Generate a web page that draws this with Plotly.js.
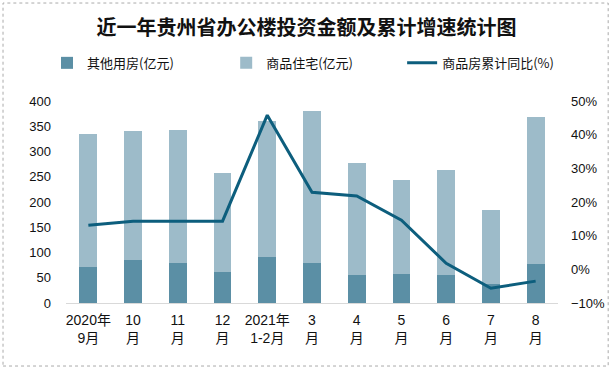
<!DOCTYPE html>
<html><head><meta charset="utf-8">
<script src="https://cdn.plot.ly/plotly-3.0.1.min.js"></script>
<style>html,body{margin:0;padding:0;background:#fff;}#chart{width:613px;height:370px;}</style>
</head><body><div id="chart"></div>
<script>
const categories = ["2020年<br>9月","10<br>月","11<br>月","12<br>月","2021年<br>1-2月","3<br>月","4<br>月","5<br>月","6<br>月","7<br>月","8<br>月"];
const otherUse = [71, 85, 79, 61, 91, 79, 55, 57, 55, 38, 77];
const totalInvest = [335, 341, 343, 257, 360, 380, 277, 243, 263, 184, 368];
const residential = totalInvest.map((t, i) => t - otherUse[i]);
const growthPct = [13.1, 14.3, 14.3, 14.3, 45.8, 22.9, 21.8, 14.6, 1.8, -5.6, -3.5];

const font = "'Noto Sans CJK SC', 'Noto Sans', sans-serif";
const tickFont = "'Liberation Sans', 'Noto Sans CJK SC', sans-serif";
const traces = [
  {type:'bar', name:'其他用房(亿元)', x:categories, y:otherUse, marker:{color:'#5b8fa5'}, hoverinfo:'skip', legend:'legend'},
  {type:'bar', name:'商品住宅(亿元)', x:categories, y:residential, marker:{color:'#9dbbc9'}, hoverinfo:'skip', legend:'legend2'},
  {type:'scatter', mode:'lines', name:'商品房累计同比(%)', x:categories, y:growthPct, yaxis:'y2',
   line:{color:'#0d5e7d', width:3}, hoverinfo:'skip', legend:'legend3'}
];
function leg(x) {
  return {orientation:'h', xref:'container', x:x, xanchor:'left', yref:'container', y:0.83, yanchor:'middle',
          font:{family:font, size:13, color:'#111'}, bgcolor:'rgba(0,0,0,0)'};
}
const layout = {
  width:613, height:370,
  margin:{l:66, r:55, t:101, b:67},
  paper_bgcolor:'#fff', plot_bgcolor:'#fff',
  font:{family:font, size:13, color:'#111'},
  barmode:'stack', bargap:0.6,
  title:{text:'近一年贵州省办公楼投资金额及累计增速统计图', x:0.5, xanchor:'center', y:0.925, yanchor:'middle',
         font:{family:font, size:20, color:'#111', weight:'bold'}},
  showlegend:true,
  legend:leg(0.0767), legend2:leg(0.369), legend3:leg(0.656),
  xaxis:{type:'category', showline:true, linecolor:'#d9d9d9', linewidth:1, ticks:'', showgrid:false,
         ticklabelstandoff:4, tickfont:{family:tickFont, size:14, color:'#111'}},
  yaxis:{range:[0,400], dtick:50, showgrid:false, zeroline:false, showline:false, ticks:'',
         ticklabelstandoff:14, tickfont:{family:tickFont, size:13, color:'#111'}},
  yaxis2:{overlaying:'y', side:'right', range:[-10,50], dtick:10, ticksuffix:'%', showgrid:false, zeroline:false,
          showline:false, ticks:'', ticklabelstandoff:12, tickfont:{family:tickFont, size:13, color:'#111'}},
  shapes:[{type:'rect', xref:'paper', yref:'paper', x0:-0.128, x1:1.102, y0:-0.312, y1:1.485,
           line:{color:'#aaaaaa', width:1, dash:'dot'}, fillcolor:'rgba(0,0,0,0)'}]
};
Plotly.newPlot('chart', traces, layout, {displayModeBar:false, staticPlot:true});
</script></body></html>
